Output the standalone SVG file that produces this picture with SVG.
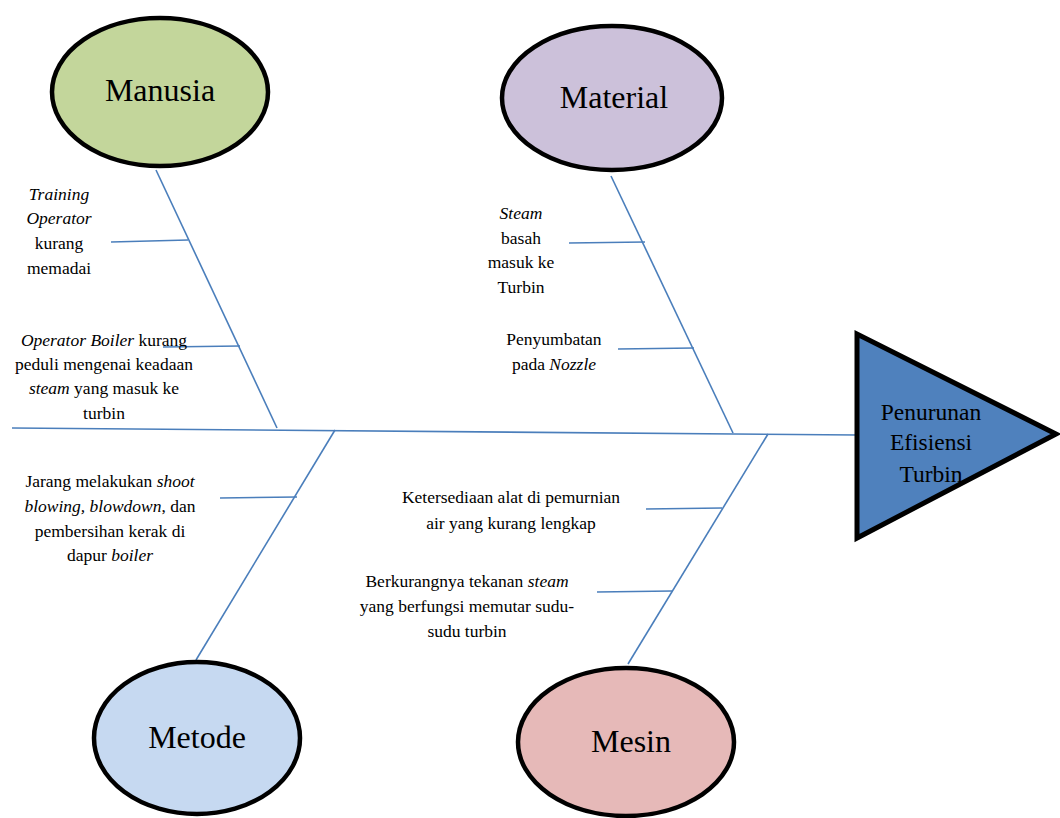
<svg xmlns="http://www.w3.org/2000/svg" width="1060" height="818" viewBox="0 0 1060 818">
<style>
.bone{stroke:#4a7ebb;stroke-width:1.6;fill:none}
.node{stroke:#000;stroke-width:4.5}
text{font-family:'Liberation Serif','DejaVu Serif','Noto Serif',serif;fill:#000;text-anchor:middle}
.lbl{font-size:17.5px}
.big{font-size:32px}
.eff{font-size:23.5px}
</style>
<rect width="1060" height="818" fill="#fff"/>
<g id="connectors">
<line class="bone" x1="12" y1="428" x2="857" y2="435"/>
<line class="bone" x1="156" y1="170" x2="277" y2="428"/>
<line class="bone" x1="611" y1="176" x2="733" y2="433"/>
<line class="bone" x1="196" y1="660" x2="335" y2="430"/>
<line class="bone" x1="628" y1="664" x2="768" y2="434"/>
<line class="bone" x1="111" y1="242" x2="188" y2="240"/>
<line class="bone" x1="163" y1="347" x2="240" y2="346"/>
<line class="bone" x1="569" y1="243" x2="645" y2="242"/>
<line class="bone" x1="618" y1="349" x2="694" y2="348"/>
<line class="bone" x1="220" y1="498" x2="297" y2="497"/>
<line class="bone" x1="646" y1="509" x2="722" y2="508"/>
<line class="bone" x1="597" y1="592" x2="672" y2="591"/>
</g>
<g id="manusia">
<ellipse class="node" cx="160" cy="92" rx="108" ry="74" fill="#c3d69b"/>
<text class="big" x="160" y="101">Manusia</text>
</g>
<g id="material">
<ellipse class="node" cx="612" cy="98" rx="110" ry="72" fill="#ccc1da"/>
<text class="big" x="614" y="108">Material</text>
</g>
<g id="metode">
<ellipse class="node" cx="197" cy="738" rx="103" ry="76" fill="#c6d9f1"/>
<text class="big" x="197" y="748">Metode</text>
</g>
<g id="mesin">
<ellipse class="node" cx="626" cy="742" rx="108" ry="74" fill="#e6b9b8"/>
<text class="big" x="631" y="752">Mesin</text>
</g>
<g id="efisiensi">
<polygon points="857,334 857,538 1056,434" fill="#4f81bd" stroke="#000" stroke-width="5" stroke-linejoin="miter"/>
<text class="eff" x="931" y="420">Penurunan</text>
<text class="eff" x="931" y="450">Efisiensi</text>
<text class="eff" x="931" y="482">Turbin</text>
</g>
<g id="training">
<text class="lbl" x="59" y="200" font-style="italic">Training</text>
<text class="lbl" x="59" y="224" font-style="italic">Operator</text>
<text class="lbl" x="59" y="249">kurang</text>
<text class="lbl" x="59" y="274">memadai</text>
</g>
<g id="operator-boiler">
<text class="lbl" x="104" y="346"><tspan font-style="italic">Operator Boiler</tspan> kurang</text>
<text class="lbl" x="104" y="370">peduli mengenai keadaan</text>
<text class="lbl" x="104" y="394"><tspan font-style="italic">steam</tspan> yang masuk ke</text>
<text class="lbl" x="104" y="419">turbin</text>
</g>
<g id="steam-basah">
<text class="lbl" x="521" y="219" font-style="italic">Steam</text>
<text class="lbl" x="521" y="244">basah</text>
<text class="lbl" x="521" y="268">masuk ke</text>
<text class="lbl" x="521" y="293">Turbin</text>
</g>
<g id="penyumbatan">
<text class="lbl" x="554" y="345">Penyumbatan</text>
<text class="lbl" x="554" y="370">pada <tspan font-style="italic">Nozzle</tspan></text>
</g>
<g id="jarang">
<text class="lbl" x="110" y="487">Jarang melakukan <tspan font-style="italic">shoot</tspan></text>
<text class="lbl" x="110" y="512"><tspan font-style="italic">blowing, blowdown</tspan>, dan</text>
<text class="lbl" x="110" y="537">pembersihan kerak di</text>
<text class="lbl" x="110" y="561">dapur <tspan font-style="italic">boiler</tspan></text>
</g>
<g id="ketersediaan">
<text class="lbl" x="511" y="503">Ketersediaan alat di pemurnian</text>
<text class="lbl" x="511" y="529">air yang kurang lengkap</text>
</g>
<g id="berkurangnya">
<text class="lbl" x="467" y="587">Berkurangnya tekanan <tspan font-style="italic">steam</tspan></text>
<text class="lbl" x="467" y="612">yang berfungsi memutar sudu-</text>
<text class="lbl" x="467" y="637">sudu turbin</text>
</g>
</svg>
